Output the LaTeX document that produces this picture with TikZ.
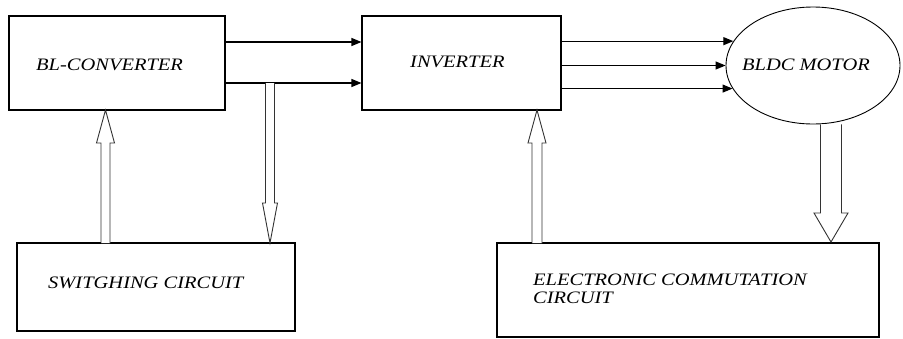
\documentclass[tikz,border=0pt]{standalone}
\usepackage{fontspec}
\setmainfont{Liberation Serif}
\newfontfamily\labfont[FakeStretch=1.17]{Liberation Serif}
\usetikzlibrary{arrows.meta,shapes.geometric,calc}
\tikzset{
  blockbox/.style={draw, line width=1.1pt, rectangle, inner sep=0pt},
  labeltext/.style={inner sep=0pt, anchor=west, font=\labfont\itshape\fontsize{17.5}{18}\selectfont, align=left},
  sigarrow/.style={line width=1.1pt, -{Triangle[length=10pt,width=8pt]}},
  hollow/.style={draw=black!80, line width=0.9pt, line join=miter, fill=white}
}
\newcommand\hollowarrow[5]{%
  \draw[hollow] let \p1=(#1), \p2=(#2), \n1={ifthenelse(\y2>\y1,1,-1)} in
    (\x2-#3,\y1) -- (\x2-#3,\y2-\n1*#5) -- (\x2-#4,\y2-\n1*#5) -- (\x2,\y2)
    -- (\x2+#4,\y2-\n1*#5) -- (\x2+#3,\y2-\n1*#5) -- (\x2+#3,\y1);}
\begin{document}
\begin{tikzpicture}[x=1pt,y=-1pt]
\useasboundingbox (0,0) rectangle (903,338);
% blocks
\node[blockbox, minimum width=216pt, minimum height=94pt] (conv) at (117,63) {};
\node[blockbox, minimum width=199pt, minimum height=94pt] (inv) at (461.5,63) {};
\node[draw, line width=0.9pt, ellipse, minimum width=174pt, minimum height=117pt, inner sep=0pt] (motor) at (813,65.5) {};
\node[blockbox, minimum width=278pt, minimum height=88pt] (sw) at (156,287) {};
\node[blockbox, minimum width=382pt, minimum height=94pt] (ecc) at (688,290) {};
% texts
\node[labeltext] (convt) at (36,65) {BL-CONVERTER};
\node[labeltext] (invt) at (410,62) {INVERTER};
\node[labeltext] (motort) at (742,65) {BLDC MOTOR};
\node[labeltext] (swt) at (48,283) {SWITGHING CIRCUIT};
\node[labeltext] (ecct) at (533,289) {ELECTRONIC COMMUTATION\\CIRCUIT};
% signal arrows
\draw[sigarrow] ([yshift=21pt]conv.east) -- ([yshift=21pt]inv.west);
\draw[sigarrow] ([yshift=-20pt]conv.east) -- ([yshift=-20pt]inv.west);
\draw[sigarrow] (inv.east |- motor.163.6) -- (motor.163.6);
\draw[sigarrow] (inv.east |- motor.west) -- (motor.west);
\draw[sigarrow] (inv.east |- motor.196.4) -- (motor.196.4);
% hollow arrows
\coordinate (tap) at (270,83);
\coordinate (swtop) at (270,243);
\coordinate (swin) at (105.5,243);
\coordinate (convin) at (105.5,110);
\coordinate (eccout) at (537,243);
\coordinate (invin) at (537,110);
\coordinate (eccin) at (831,242);
\hollowarrow{swin}{convin}{4.5pt}{9pt}{33pt}
\hollowarrow{tap}{swtop}{4.5pt}{7.5pt}{40pt}
\hollowarrow{eccout}{invin}{5pt}{9pt}{33pt}
\hollowarrow{motor.south}{eccin}{10.5pt}{17pt}{29pt}
\end{tikzpicture}
\end{document}
